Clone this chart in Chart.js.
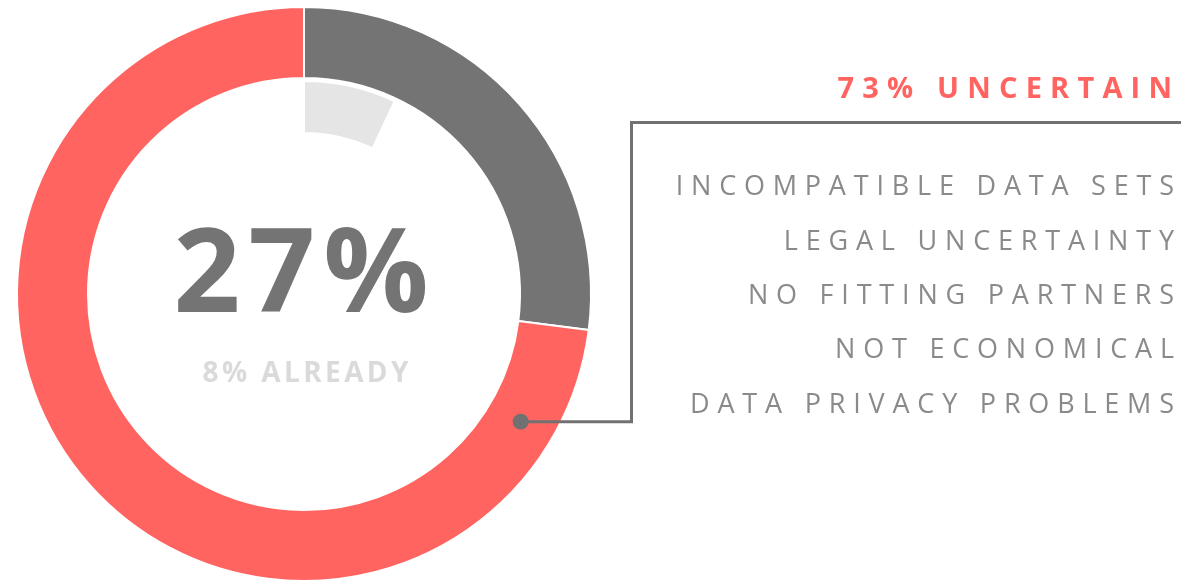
<!DOCTYPE html>
<html>
<head>
<meta charset="utf-8">
<script src="https://cdn.jsdelivr.net/npm/chart.js@4.4.1/dist/chart.umd.min.js"></script>
<style>
  html, body { margin: 0; padding: 0; background: #fff; overflow: hidden; }
  body { width: 1200px; height: 580px; position: relative; font-family: "Open Sans", sans-serif; }
  #chart { position: absolute; left: 0; top: 0; }
  .txt { position: absolute; line-height: 1; white-space: nowrap; }
  #bigValue { left: 0; width: 602px; text-align: center; top: 208px; font-size: 117px; font-weight: 700; color: #747474; letter-spacing: 8px; padding-left: 8px; box-sizing: border-box; }
  #subValue { left: 0; width: 611px; text-align: center; top: 357px; font-size: 28px; font-weight: 700; color: #dadada; letter-spacing: 3.4px; padding-left: 3.4px; box-sizing: border-box; }
  #headline { top: 72px; font-size: 29px; font-weight: 700; color: #ff6461; letter-spacing: 8.2px; }
  .reason { font-size: 27px; font-weight: 400; color: #8a8a8a; letter-spacing: 7.8px; }
</style>
</head>
<body>
<canvas id="chart" width="1200" height="600"></canvas>
<div id="bigValue" class="txt"></div>
<div id="subValue" class="txt"></div>
<div id="headline" class="txt"></div>
<div id="reasons"></div>
<script>
// Chart data
const segmentLabels = ['Already decided', 'Uncertain'];
const outerValues = [27, 73];
const innerLabels = ['Already', 'Rest'];
const innerValues = [7, 93];
const centerText = '27%';
const subText = '8% ALREADY';
const headlineText = '73% UNCERTAIN';
const reasons = [
    'INCOMPATIBLE DATA SETS',
    'LEGAL UNCERTAINTY',
    'NO FITTING PARTNERS',
    'NOT ECONOMICAL',
    'DATA PRIVACY PROBLEMS'
];

// Colours
const grey = '#747474';
const red = '#ff6461';
const lightGrey = '#e5e5e5';
const lineGrey = '#717171';

// Text placement
const textRight = 1175;
document.getElementById('bigValue').textContent = centerText;
document.getElementById('subValue').textContent = subText;
const headline = document.getElementById('headline');
headline.textContent = headlineText;
headline.style.right = (1200 - textRight - 8.2 + 3) + 'px';

const reasonsBox = document.getElementById('reasons');
reasons.forEach((r, i) => {
    const d = document.createElement('div');
    d.className = 'txt reason';
    d.textContent = r;
    d.style.right = (1200 - textRight - 7.8 + 1) + 'px';
    d.style.top = (176 + i * 54.3 - 4.7) + 'px';
    reasonsBox.appendChild(d);
});

// Leader line from the red segment to the reasons list
const leaderPlugin = {
    id: 'leader',
    afterDraw(chart) {
        const arc = chart.getDatasetMeta(0).data[1];
        const { x, y, innerRadius, outerRadius } = arc.getProps(['x', 'y', 'innerRadius', 'outerRadius'], true);
        const r = (innerRadius + outerRadius) / 2;
        const a = 30.5 * Math.PI / 180;
        const dotX = x + r * Math.cos(a);
        const dotY = y + r * Math.sin(a);
        const elbowX = 631.5;
        const topY = 122.5;
        const ctx = chart.ctx;
        ctx.save();
        ctx.strokeStyle = lineGrey;
        ctx.lineWidth = 3;
        ctx.beginPath();
        ctx.moveTo(1181, topY);
        ctx.lineTo(elbowX, topY);
        ctx.lineTo(elbowX, dotY);
        ctx.lineTo(dotX, dotY);
        ctx.stroke();
        ctx.fillStyle = lineGrey;
        ctx.beginPath();
        ctx.arc(dotX, dotY, 8, 0, Math.PI * 2);
        ctx.fill();
        ctx.restore();
    }
};

new Chart(document.getElementById('chart'), {
    type: 'doughnut',
    data: {
        labels: segmentLabels,
        datasets: [
            {
                data: outerValues,
                backgroundColor: [grey, red],
                borderColor: '#ffffff',
                borderWidth: 2,
                weight: 71
            },
            {
                // spacer ring between the two rings
                data: [1],
                backgroundColor: 'rgba(0,0,0,0)',
                borderWidth: 0,
                weight: 3
            },
            {
                data: innerValues,
                backgroundColor: [lightGrey, 'rgba(0,0,0,0)'],
                borderColor: '#ffffff',
                borderWidth: [2, 0],
                weight: 52
            }
        ]
    },
    options: {
        responsive: false,
        animation: false,
        cutout: '56.1%',
        layout: {
            padding: { left: 16, top: 6, right: 1200 - 592, bottom: 600 - 582 }
        },
        plugins: {
            legend: { display: false },
            tooltip: { enabled: false }
        }
    },
    plugins: [leaderPlugin]
});
</script>
</body>
</html>
